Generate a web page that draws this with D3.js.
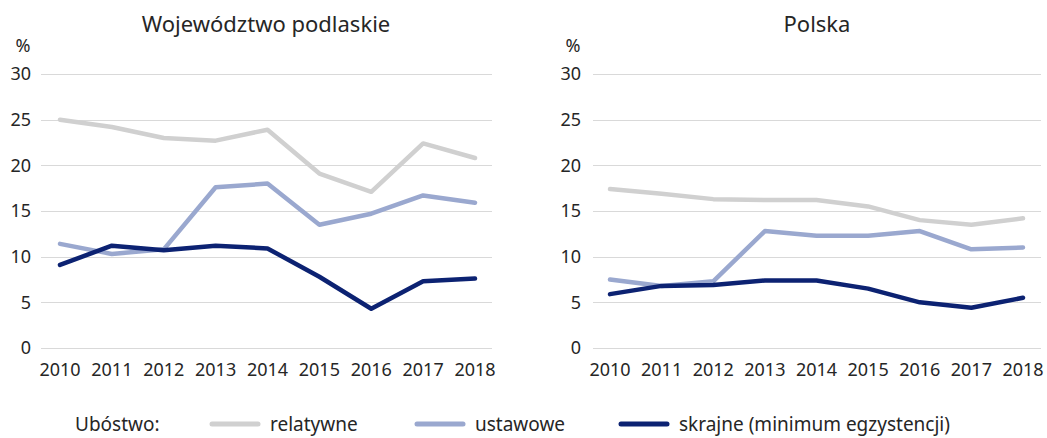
<!DOCTYPE html>
<html>
<head>
<meta charset="utf-8">
<script src="https://cdn.jsdelivr.net/npm/d3@7"></script>
<style>
  body { margin: 0; background: #fff; }
  text { font-family: "Noto Sans", "Open Sans", sans-serif; fill: #262626; }
</style>
</head>
<body>
<script>
// Dane
var years = [2010, 2011, 2012, 2013, 2014, 2015, 2016, 2017, 2018];
var yTicks = [0, 5, 10, 15, 20, 25, 30];
var seriesNames = ["relatywne", "ustawowe", "skrajne (minimum egzystencji)"];

var podlaskieRelatywne = [25.0, 24.2, 23.0, 22.7, 23.9, 19.1, 17.1, 22.4, 20.8];
var podlaskieUstawowe  = [11.4, 10.3, 10.8, 17.6, 18.0, 13.5, 14.7, 16.7, 15.9];
var podlaskieSkrajne   = [9.1, 11.2, 10.7, 11.2, 10.9, 7.8, 4.3, 7.3, 7.6];

var polskaRelatywne = [17.4, 16.9, 16.3, 16.2, 16.2, 15.5, 14.0, 13.5, 14.2];
var polskaUstawowe  = [7.5, 6.8, 7.3, 12.8, 12.3, 12.3, 12.8, 10.8, 11.0];
var polskaSkrajne   = [5.9, 6.8, 6.9, 7.4, 7.4, 6.5, 5.0, 4.4, 5.5];

var colors = ["#d0d0d0", "#9aa8cf", "#0c2272"];

var W = 1047, H = 438;
var svg = d3.select("body").append("svg")
    .attr("width", W)
    .attr("height", H);

//Funcion que dibuja un panel
function drawPanel(opts) {
  var g = svg.append("g");

  var x = d3.scalePoint()
      .domain(years)
      .range([opts.x0, opts.x1]);

  var y = d3.scaleLinear()
      .domain([0, 30])
      .range([348, 74]);

  // lineas de la cuadricula
  g.selectAll("line.grid")
      .data(yTicks)
      .enter()
      .append("line")
      .attr("class", "grid")
      .attr("x1", opts.gx0)
      .attr("x2", opts.gx1)
      .attr("y1", function(d) { return Math.round(y(d)) + 0.5; })
      .attr("y2", function(d) { return Math.round(y(d)) + 0.5; })
      .attr("stroke", "#d9d9d9")
      .attr("stroke-width", 1);

  // etiquetas eje y
  g.selectAll("text.ytick")
      .data(yTicks)
      .enter()
      .append("text")
      .attr("class", "ytick")
      .attr("x", opts.labelX)
      .attr("y", function(d) { return y(d); })
      .attr("dy", "0.35em")
      .attr("text-anchor", "end")
      .attr("font-size", "18px")
      .text(function(d) { return d; });

  g.append("text")
      .attr("x", opts.labelX - 8)
      .attr("y", 52)
      .attr("text-anchor", "middle")
      .attr("font-size", "18px")
      .text("%");

  // etiquetas eje x
  g.selectAll("text.xtick")
      .data(years)
      .enter()
      .append("text")
      .attr("class", "xtick")
      .attr("x", function(d) { return x(d); })
      .attr("y", 376)
      .attr("text-anchor", "middle")
      .attr("font-size", "18px")
      .text(function(d) { return d; });

  // titulo
  g.append("text")
      .attr("x", opts.titleX)
      .attr("y", 32)
      .attr("text-anchor", "middle")
      .attr("font-size", "22px")
      .text(opts.title);

  var line = d3.line()
      .x(function(d, i) { return x(years[i]); })
      .y(function(d) { return y(d); });

  opts.series.forEach(function(s, i) {
    g.append("path")
        .datum(s)
        .attr("d", line)
        .attr("fill", "none")
        .attr("stroke", colors[i])
        .attr("stroke-width", 4.5)
        .attr("stroke-linecap", "round")
        .attr("stroke-linejoin", "round");
  });
}

drawPanel({
  title: "Województwo podlaskie",
  titleX: 266,
  x0: 60, x1: 475,
  gx0: 41, gx1: 492,
  labelX: 31,
  series: [podlaskieRelatywne, podlaskieUstawowe, podlaskieSkrajne]
});

drawPanel({
  title: "Polska",
  titleX: 817,
  x0: 610, x1: 1023,
  gx0: 593, gx1: 1041,
  labelX: 581,
  series: [polskaRelatywne, polskaUstawowe, polskaSkrajne]
});

// Leyenda
var legend = svg.append("g");
legend.append("text")
    .attr("x", 75)
    .attr("y", 431)
    .attr("font-size", "19px")
    .text("Ubóstwo:");

var legendX = [210, 415, 619];
seriesNames.forEach(function(name, i) {
  legend.append("line")
      .attr("x1", legendX[i] + 2)
      .attr("x2", legendX[i] + 48)
      .attr("y1", 424)
      .attr("y2", 424)
      .attr("stroke", colors[i])
      .attr("stroke-width", 5)
      .attr("stroke-linecap", "round");
  legend.append("text")
      .attr("x", legendX[i] + 60)
      .attr("y", 431)
      .attr("font-size", "19px")
      .text(name);
});
</script>
</body>
</html>
